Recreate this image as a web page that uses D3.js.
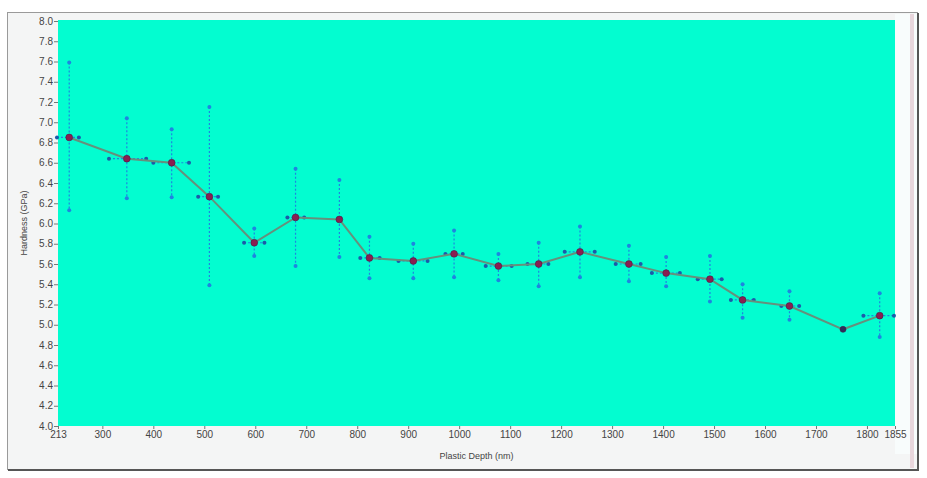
<!DOCTYPE html>
<html>
<head>
<meta charset="utf-8">
<script src="https://cdn.jsdelivr.net/npm/d3@7.9.0/dist/d3.min.js"></script>
<style>
  body { margin: 0; background: #ffffff; }
  svg { display: block; font-family: "Liberation Sans", Arial, sans-serif; }
</style>
</head>
<body>
<svg id="chart" width="927" height="478"></svg>
<script>
// values
const depth = [235, 348, 436, 510, 598, 679, 765, 824, 910, 990, 1077, 1156, 1237, 1333, 1406, 1492, 1556, 1648, 1753, 1825];
const hardness = [6.85, 6.64, 6.60, 6.265, 5.81, 6.06, 6.04, 5.66, 5.63, 5.70, 5.58, 5.60, 5.72, 5.60, 5.51, 5.45, 5.245, 5.185, 4.955, 5.09];
const hardHigh = [7.59, 7.04, 6.93, 7.15, 5.95, 6.54, 6.43, 5.87, 5.80, 5.93, 5.70, 5.81, 5.97, 5.78, 5.67, 5.68, 5.40, 5.33, null, 5.31];
const hardLow = [6.13, 6.25, 6.26, 5.39, 5.68, 5.58, 5.67, 5.46, 5.46, 5.47, 5.44, 5.38, 5.47, 5.43, 5.38, 5.23, 5.07, 5.05, null, 4.88];
const depthLow = [211, 313, 400, 488, 578, 663, null, 806, 881, 973, 1052, 1134, 1207, 1307, 1378, 1468, 1533, 1632, null, 1793];
const depthHigh = [254, 386, 470, 527, 618, 696, null, 844, 938, 1007, 1103, 1175, 1266, 1356, 1433, 1515, 1578, 1667, null, 1853];
const xTicks = [213, 300, 400, 500, 600, 700, 800, 900, 1000, 1100, 1200, 1300, 1400, 1500, 1600, 1700, 1800, 1855];
const yTicks = d3.range(4, 8.001, 0.2);

const svg = d3.select("#chart");
const plot = { left: 58, right: 895, top: 20, bottom: 426 };

// window frame
svg.append("rect")
  .attr("x", 7.5).attr("y", 12.5).attr("width", 910).attr("height", 457)
  .attr("fill", "#f4f5f5").attr("stroke", "#9a9a9a");
svg.append("rect")
  .attr("x", plot.right).attr("y", 14).attr("width", 22).attr("height", 440)
  .attr("fill", "#f8fcfc");
svg.append("line")
  .attr("x1", 912).attr("x2", 912).attr("y1", 14).attr("y2", 468)
  .attr("stroke", "#e8d6dc").attr("stroke-width", 4);
svg.append("path")
  .attr("d", "M918,13 V470 H8")
  .attr("fill", "none").attr("stroke", "#555").attr("stroke-width", 2);

const x = d3.scaleLinear().domain([213, 1855]).range([plot.left, plot.right]);
const y = d3.scaleLinear().domain([4, 8]).range([plot.bottom, plot.top + 1]);

svg.append("rect")
  .attr("x", plot.left).attr("y", plot.top)
  .attr("width", plot.right - plot.left).attr("height", plot.bottom - plot.top)
  .attr("fill", "#03fdd0");

// axes
const yAxis = svg.append("g")
  .attr("transform", `translate(${plot.left},0)`)
  .call(d3.axisLeft(y).tickValues(yTicks).tickFormat(d3.format(".1f")).tickSize(4).tickPadding(1));
const xAxis = svg.append("g")
  .attr("transform", `translate(0,${plot.bottom})`)
  .call(d3.axisBottom(x).tickValues(xTicks).tickFormat(d3.format("d")).tickSize(3).tickPadding(2));
[yAxis, xAxis].forEach((g) => {
  g.select(".domain").remove();
  g.selectAll("line").attr("stroke", "#777");
  g.selectAll("text").attr("fill", "#444").attr("font-size", 10)
    .attr("font-family", "Liberation Sans, Arial, sans-serif");
});

svg.append("text")
  .attr("transform", `translate(27,${(plot.top + plot.bottom) / 2}) rotate(-90)`)
  .attr("text-anchor", "middle")
  .attr("font-size", 9).attr("fill", "#444")
  .text("Hardness (GPa)");
svg.append("text")
  .attr("x", (plot.left + plot.right) / 2).attr("y", 459)
  .attr("text-anchor", "middle")
  .attr("font-size", 9).attr("fill", "#444")
  .text("Plastic Depth (nm)");

const data = depth.map((d, i) => ({
  d, h: hardness[i], hi: hardHigh[i], lo: hardLow[i], dl: depthLow[i], dh: depthHigh[i]
}));

// error bars
const errColor = "#1f84e0";
const errG = svg.append("g");
data.filter((p) => p.hi !== null).forEach((p) => {
  errG.append("line")
    .attr("x1", x(p.d)).attr("x2", x(p.d)).attr("y1", y(p.hi)).attr("y2", y(p.lo))
    .attr("stroke", errColor).attr("stroke-width", 1.2).attr("stroke-dasharray", "2,2");
  [p.hi, p.lo].forEach((v) => {
    errG.append("circle").attr("cx", x(p.d)).attr("cy", y(v)).attr("r", 2).attr("fill", errColor);
  });
});
data.filter((p) => p.dl !== null).forEach((p) => {
  errG.append("line")
    .attr("x1", x(p.dl)).attr("x2", x(p.dh)).attr("y1", y(p.h)).attr("y2", y(p.h))
    .attr("stroke", errColor).attr("stroke-width", 1.2).attr("stroke-dasharray", "2,2");
  [p.dl, p.dh].forEach((v) => {
    errG.append("circle").attr("cx", x(v)).attr("cy", y(p.h)).attr("r", 2).attr("fill", "#1d5aa8");
  });
});

// line
const line = d3.line().x((p) => x(p.d)).y((p) => y(p.h));
svg.append("path")
  .datum(data)
  .attr("d", line)
  .attr("fill", "none")
  .attr("stroke", "#66907c")
  .attr("stroke-width", 2);

// markers
svg.append("g").selectAll("circle")
  .data(data)
  .join("circle")
  .attr("cx", (p) => x(p.d))
  .attr("cy", (p) => y(p.h))
  .attr("r", (p) => (p.hi === null ? 3 : 3.4))
  .attr("fill", (p) => (p.hi === null ? "#2b2f5a" : "#8a1f50"))
  .attr("stroke", "#4a1a4a")
  .attr("stroke-width", 0.6);
</script>
</body>
</html>
